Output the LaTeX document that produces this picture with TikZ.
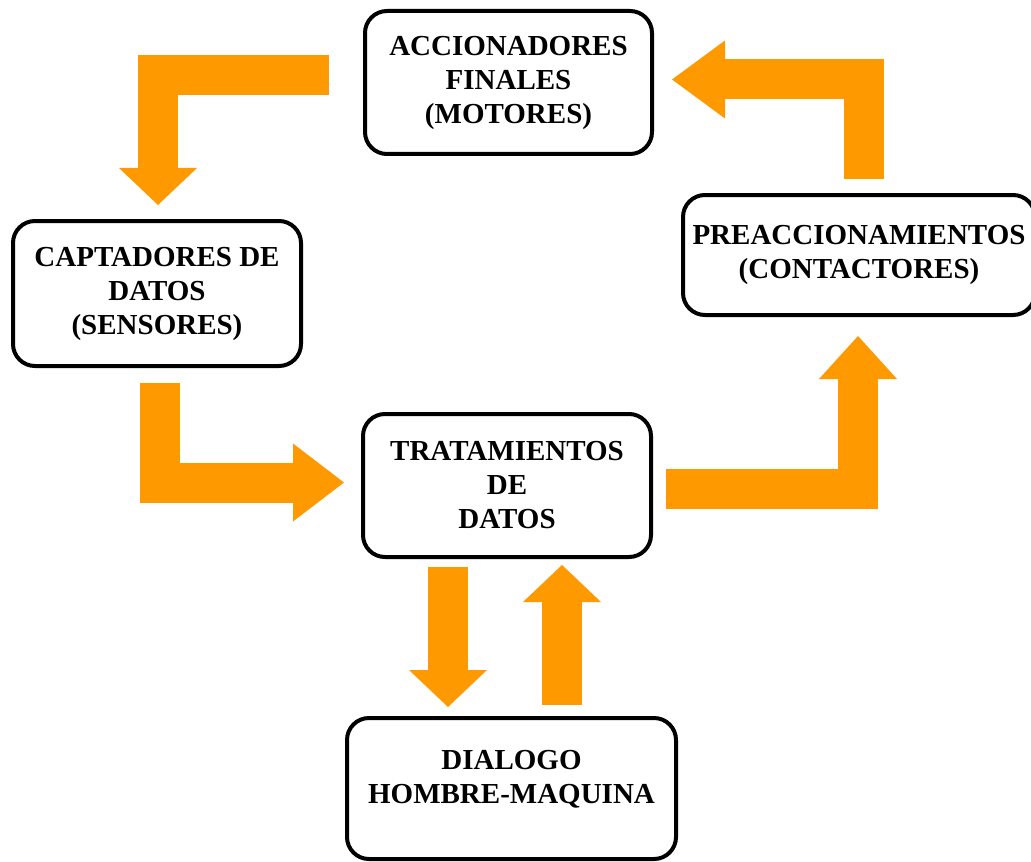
\documentclass[tikz,border=0pt]{standalone}
\usepackage{fontspec}
\setmainfont{Liberation Serif}
\usetikzlibrary{arrows.meta}

\definecolor{naranja}{RGB}{255,153,0}

\begin{document}
\begin{tikzpicture}[
    x=0.5pt, y=-0.5pt,
    bloque/.style={rectangle, draw, line width=2pt, rounded corners=11pt, align=center, inner sep=0pt,
        font=\bfseries\fontsize{14.5}{17}\selectfont},
    flecha/.style={color=naranja, line width=20pt, -{Triangle[width=39pt, length=#1, line width=0pt]}},
    flecha/.default=18.5pt
]
\useasboundingbox (0,0) rectangle (1031,861);

% Blocks of the cycle
\node[bloque, minimum width=143.5pt, minimum height=71.5pt] (accionadores) at (508.5,82.5) {ACCIONADORES\\FINALES\\(MOTORES)};
\node[bloque, minimum width=144pt, minimum height=72.5pt] (captadores) at (157,293.5) {CAPTADORES DE\\DATOS\\(SENSORES)};
\node[bloque, minimum width=176pt, minimum height=60pt] (preacc) at (859,255) {PREACCIONAMIENTOS\\(CONTACTORES)};
\node[bloque, minimum width=144pt, minimum height=71.5pt] (tratamientos) at (507,485.5) {TRATAMIENTOS\\DE\\DATOS};
\node[bloque, minimum width=164.5pt, minimum height=70.5pt] (dialogo) at (511.5,788.5) {DIALOGO\\HOMBRE-MAQUINA\\[-5pt]\mbox{}};

% Arrows around the loop
\draw[flecha] ([shift={(-34,-7.5)}]accionadores.west) -| ([shift={(1,-14)}]captadores.north);
\draw[flecha=25.5pt] ([shift={(3,15)}]captadores.south) |- ([shift={(-17,-3)}]tratamientos.west);
\draw[flecha=21.5pt] ([shift={(13,3)}]tratamientos.east) -| ([shift={(-1,19)}]preacc.south);
\draw[flecha=26.5pt] ([shift={(5,-14)}]preacc.north) |- ([shift={(18,-3)}]accionadores.east);

% Arrows to and from the dialogue
\coordinate (baja) at ([shift={(-59,8)}]tratamientos.south);
\coordinate (sube) at ([shift={(50.5,-11)}]dialogo.north);
\draw[flecha, shorten >=4.5pt] (baja) -- (baja |- dialogo.north);
\draw[flecha, shorten >=3pt] (sube) -- (sube |- tratamientos.south);

\end{tikzpicture}
\end{document}
